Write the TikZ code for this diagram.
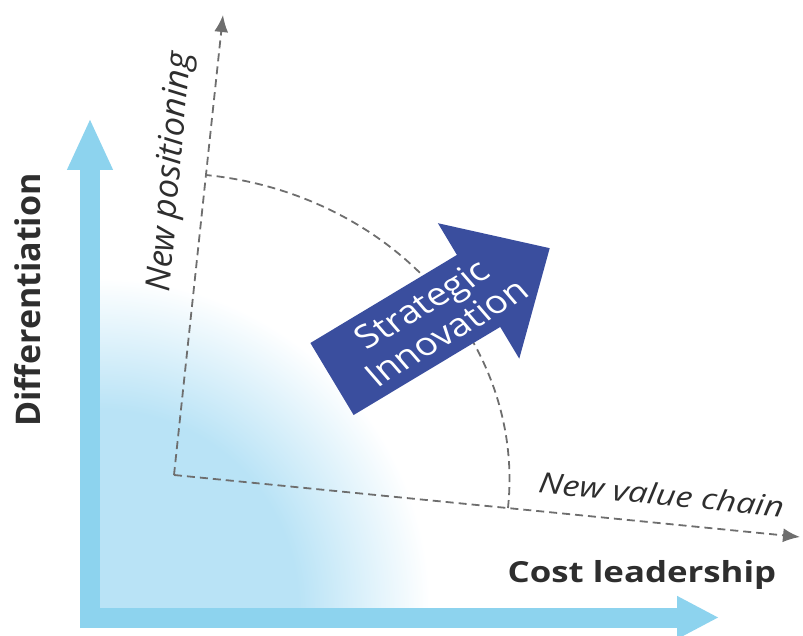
\documentclass[tikz,border=0pt]{standalone}
\usepackage{fontspec}
\setmainfont{Open Sans}
\usetikzlibrary{arrows.meta}
\definecolor{ejeazul}{HTML}{8DD3EE}
\definecolor{manchaazul}{HTML}{B9E3F6}
\definecolor{flechaazul}{HTML}{3A4E9E}
\definecolor{rayagris}{HTML}{6E6E6E}
\pgfdeclareradialshading{mancha}{\pgfpoint{0bp}{0bp}}{color(0bp)=(manchaazul); color(15bp)=(manchaazul); color(25bp)=(white); color(50bp)=(white)}

\begin{document}
\begin{tikzpicture}[x=1pt, y=1pt,
    eje/.style={ejeazul, line width=20pt},
    raya/.style={rayagris, line width=1.8pt, dash pattern=on 8pt off 5pt},
    punta/.style={-{Latex[length=17pt, width=14pt]}},
    titulo/.style={font=\fontsize{#1}{#1}\selectfont\bfseries, text=black!82, inner sep=0pt},
    cursiva/.style={font=\fontsize{#1}{#1}\selectfont\itshape, text=black!82, inner sep=0pt}]
    \useasboundingbox (0,0) rectangle (803,635);

    % Mancha
    \begin{scope}
        \clip (100,27) rectangle (760,635);
        \shade[shading=mancha] (100,27) circle (330);
    \end{scope}

    % Ejes
    \coordinate (esquina) at (90,7);
    \coordinate (ytip) at (90,517);
    \coordinate (origen) at (80,17.5);
    \coordinate (xtip) at (719,17.5);
    \draw[eje, -{Triangle[length=52pt, width=42pt]}] (esquina) -- (ytip);
    \draw[eje, -{Triangle[length=42pt, width=40pt]}] (origen) -- (xtip);
    \node[titulo=34, rotate=90, anchor=base] (dif) at (40,335) {Differentiation};
    \node[titulo=29, xscale=1.2, anchor=base] (cost) at (642,53) {Cost leadership};

    % Ejes nuevos
    \coordinate (o) at (174,160);
    \coordinate (ptip) at (223,620);
    \coordinate (vtip) at (800,98);
    \draw[raya, punta] (o) -- (ptip);
    \draw[raya, punta] (o) -- (vtip);
    \begin{scope}[shift={(o)}, x={(334pt,-33pt)}, y={(32pt,300pt)}]
        \draw[raya] plot[domain=0:90, samples=40, smooth] ({cos(\x)},{sin(\x)});
    \end{scope}
    \node[cursiva=34, rotate=85, anchor=base] (pos) at (180,462) {New positioning};
    \node[cursiva=28.5, xscale=1.2, rotate=-6.8, anchor=base] (cadena) at (660,130) {New value chain};

    % Flecha
    \begin{scope}[shift={(332,256)}, rotate=31]
        \fill[flechaazul] (0,-42) -- (171,-42) -- (171,-79) -- (254,0)
            -- (171,79) -- (171,42) -- (0,42) -- cycle;
    \end{scope}
    \node[font=\fontsize{32}{35}\selectfont, text=white, align=center,
        inner sep=0pt, xscale=1.2, rotate=35.8] (innov) at (434,317) {Strategic\\Innovation};

\end{tikzpicture}
\end{document}
